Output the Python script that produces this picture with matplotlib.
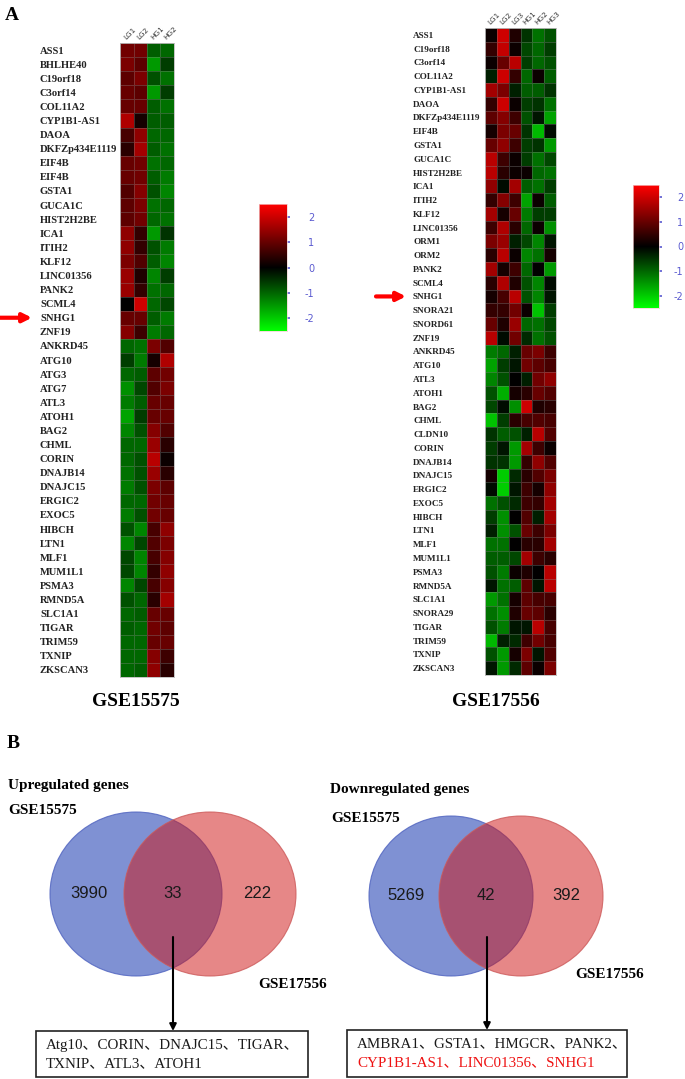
import numpy as np
import matplotlib
matplotlib.use('Agg')
import matplotlib.pyplot as plt
from matplotlib.colors import LinearSegmentedColormap
from matplotlib.patches import Ellipse, Rectangle

# ---------------- dane ----------------
genes_a = ['ASS1', 'BHLHE40', 'C19orf18', 'C3orf14', 'COL11A2', 'CYP1B1-AS1', 'DAOA',
           'DKFZp434E1119', 'EIF4B', 'EIF4B', 'GSTA1', 'GUCA1C', 'HIST2H2BE', 'ICA1',
           'ITIH2', 'KLF12', 'LINC01356', 'PANK2', 'SCML4', 'SNHG1', 'ZNF19',
           'ANKRD45', 'ATG10', 'ATG3', 'ATG7', 'ATL3', 'ATOH1', 'BAG2', 'CHML', 'CORIN',
           'DNAJB14', 'DNAJC15', 'ERGIC2', 'EXOC5', 'HIBCH', 'LTN1', 'MLF1', 'MUM1L1',
           'PSMA3', 'RMND5A', 'SLC1A1', 'TIGAR', 'TRIM59', 'TXNIP', 'ZKSCAN3']
samples_a = ['LG1', 'LG2', 'HG1', 'HG2']
vals_a = [
    [1.1, 1.1, -0.9, -1.0], [1.2, 0.9, -1.5, -0.6], [0.9, 1.2, -0.8, -1.1],
    [1.0, 0.9, -1.5, -0.6], [1.0, 1.0, -0.9, -1.1], [1.7, 0.2, -0.9, -0.9],
    [0.7, 1.4, -1.0, -1.0], [0.4, 1.6, -0.9, -1.1], [1.0, 1.1, -1.1, -1.0],
    [1.0, 1.1, -0.9, -1.2], [0.8, 1.3, -0.8, -1.3], [0.9, 1.2, -1.1, -1.0],
    [0.9, 1.1, -1.0, -1.1], [1.4, 0.5, -1.5, -0.5], [1.4, 0.5, -0.8, -1.2],
    [1.2, 0.8, -0.9, -1.3], [1.5, 0.3, -1.3, -0.6], [1.5, 0.5, -1.1, -1.0],
    [0.0, 2.0, -1.0, -0.7], [1.0, 1.0, -0.9, -1.2], [1.3, 0.6, -1.2, -1.0],
    [-1.0, -1.1, 1.2, 0.8], [-0.6, -1.2, 0.2, 1.7], [-1.0, -0.9, 0.9, 1.1],
    [-1.4, -0.7, 0.8, 1.2], [-1.2, -0.9, 1.0, 1.0], [-1.6, -0.6, 1.0, 1.0],
    [-1.3, -0.8, 1.3, 0.8], [-1.0, -1.0, 1.5, 0.4], [-1.0, -0.8, 1.8, 0.1],
    [-1.1, -0.8, 1.5, 0.4], [-1.2, -0.8, 1.2, 0.9], [-1.0, -1.0, 1.1, 1.0],
    [-1.2, -0.8, 1.1, 1.0], [-0.8, -1.3, 0.7, 1.4], [-1.3, -0.7, 0.8, 1.2],
    [-0.7, -1.3, 0.7, 1.3], [-0.7, -1.3, 0.5, 1.4], [-1.3, -0.7, 0.7, 1.3],
    [-0.8, -1.0, 0.4, 1.6], [-1.0, -0.9, 1.0, 1.0], [-0.9, -1.0, 1.1, 0.9],
    [-1.0, -1.0, 1.0, 1.0], [-1.0, -1.0, 1.3, 0.6], [-1.0, -0.9, 1.4, 0.4]]

genes_b = ['ASS1', 'C19orf18', 'C3orf14', 'COL11A2', 'CYP1B1-AS1', 'DAOA', 'DKFZp434E1119',
           'EIF4B', 'GSTA1', 'GUCA1C', 'HIST2H2BE', 'ICA1', 'ITIH2', 'KLF12', 'LINC01356',
           'ORM1', 'ORM2', 'PANK2', 'SCML4', 'SNHG1', 'SNORA21', 'SNORD61', 'ZNF19',
           'ANKRD45', 'ATG10', 'ATL3', 'ATOH1', 'BAG2', 'CHML', 'CLDN10', 'CORIN',
           'DNAJB14', 'DNAJC15', 'ERGIC2', 'EXOC5', 'HIBCH', 'LTN1', 'MLF1', 'MUM1L1',
           'PSMA3', 'RMND5A', 'SLC1A1', 'SNORA29', 'TIGAR', 'TRIM59', 'TXNIP', 'ZKSCAN3']
samples_b = ['LG1', 'LG2', 'LG3', 'HG1', 'HG2', 'HG3']
vals_b = [
    [0.1, 2.0, 0.3, -0.5, -1.1, -0.8], [0.5, 1.9, 0.1, -0.7, -1.0, -0.6],
    [0.1, 1.0, 1.8, -0.6, -1.0, -0.8], [-0.3, 2.0, 0.5, -1.0, 0.1, -0.9],
    [1.6, 1.2, -0.3, -0.9, -0.9, -0.5], [0.5, 2.0, 0.1, -0.6, -0.5, -1.1],
    [0.9, 1.3, 0.6, -0.8, -0.2, -1.6], [0.2, 1.2, 1.0, -0.5, -1.8, -0.1],
    [1.0, 1.4, 0.6, -0.6, -0.5, -1.5], [1.8, 0.6, 0.1, -0.6, -1.1, -0.7],
    [1.8, 0.4, 0.1, 0.1, -1.0, -1.1], [1.4, -0.1, 1.6, -0.9, -1.1, -0.6],
    [0.5, 1.3, 0.6, -1.6, 0.1, -0.9], [1.6, 0.2, 1.0, -1.2, -0.6, -0.6],
    [0.6, 1.7, 0.4, -1.0, 0.1, -1.4], [1.2, 1.5, -0.3, -0.7, -1.3, -0.2],
    [0.4, 1.8, 0.1, -1.3, -1.1, 0.2], [1.6, 0.2, 0.6, -1.0, 0.0, -1.5],
    [0.4, 1.7, 0.3, -0.8, -1.3, -0.1], [0.2, 0.7, 1.8, -0.8, -1.3, -0.2],
    [0.5, 0.5, 1.1, 0.1, -1.9, -0.6], [1.0, 0.3, 1.5, -1.0, -1.1, -0.7],
    [1.8, -0.1, 1.1, -0.4, -1.1, -0.8],
    [-1.2, -1.0, -0.3, 1.0, 1.2, 0.6], [-1.6, -0.6, -0.2, 1.1, 0.9, 0.7],
    [-1.3, -0.8, 0.0, -0.3, 1.1, 1.4], [-0.8, -1.7, 0.2, 0.4, 1.0, 0.8],
    [-0.7, -0.1, -1.4, 2.0, 0.3, 0.4], [-1.9, -0.6, 0.4, 0.7, 0.8, 0.7],
    [-0.5, -0.9, -0.8, -0.3, 1.8, 0.8], [-0.6, -0.2, -1.5, 1.6, 0.6, 0.1],
    [-0.5, -0.5, -1.5, 0.5, 1.4, 0.8], [0.2, -2.0, -0.4, 0.4, 0.8, 1.2],
    [-0.1, -2.0, -0.2, 0.6, 0.2, 1.4], [-1.1, -0.8, -0.4, 0.6, 0.5, 1.6],
    [-0.6, -1.4, 0.0, 0.8, -0.3, 1.6], [-0.3, -1.4, -0.8, 1.0, 0.6, 1.2],
    [-1.1, -1.1, 0.0, 0.4, 0.4, 1.6], [-0.9, -0.9, -0.7, 1.6, 0.6, 0.4],
    [-0.8, -1.2, 0.1, 0.3, 0.0, 1.8], [-0.2, -1.1, -0.9, 0.9, -0.2, 1.8],
    [-1.5, -1.1, 0.2, 0.9, 0.7, 0.7], [-1.1, -1.4, 0.3, 1.0, 0.9, 0.4],
    [-0.8, -1.2, -0.2, -0.2, 1.8, 0.7], [-1.8, -0.3, -0.4, 0.6, 1.1, 0.7],
    [-0.8, -1.5, 0.2, 1.2, -0.2, 0.8], [-0.2, -1.5, -0.4, 0.9, 0.1, 1.2]]

cbar_ticks = [-2, -1, 0, 1, 2]
marked_gene = 'SNHG1'

venn_sets = ['GSE15575', 'GSE17556']
up_counts = [3990, 33, 222]
down_counts = [5269, 42, 392]
up_common = ['Atg10、CORIN、DNAJC15、TIGAR、', 'TXNIP、ATL3、ATOH1']
down_common = ['AMBRA1、GSTA1、HMGCR、PANK2、', 'CYP1B1-AS1、LINC01356、SNHG1']

# ---------------- wykres ----------------
W, H = 685, 1079
fig = plt.figure(figsize=(W / 100, H / 100), dpi=100)
cmap = LinearSegmentedColormap.from_list('gbr', ['#00ff00', '#000000', '#ff0000'])
serif = ['Liberation Serif', 'DejaVu Serif']
serif_cjk = ['Liberation Serif', 'Noto Sans CJK SC', 'DejaVu Sans']


def px_axes(x0, y0, x1, y1):
    return fig.add_axes([x0 / W, 1 - y1 / H, (x1 - x0) / W, (y1 - y0) / H])


# warstwa z tekstami i diagramami Venna (wspolrzedne w pikselach)
ax0 = px_axes(0, 0, W, H)
ax0.set_xlim(0, W)
ax0.set_ylim(H, 0)
ax0.axis('off')


def heatmap(box, genes, samples, vals, fs, pad_px, arrow_x):
    ax = px_axes(*box)
    data = np.array(vals)
    ax.pcolormesh(data, cmap=cmap, vmin=-2.5, vmax=2.5,
                  edgecolors=(0.55, 0.55, 0.55, 0.35), linewidth=0.4)
    ax.set_ylim(len(genes), 0)
    ax.set_xlim(0, len(samples))
    ax.set_yticks(np.arange(len(genes)) + 0.5)
    ax.set_yticklabels(genes, ha='left', fontsize=fs, fontweight='bold',
                       family=serif, color='#222222')
    ax.tick_params(axis='y', length=0, pad=pad_px * 0.72)
    ax.xaxis.tick_top()
    ax.set_xticks(np.arange(len(samples)) + 0.5)
    ax.set_xticklabels(samples, rotation=45, ha='left', va='bottom',
                       rotation_mode='anchor', fontsize=5.2, color='#333333')
    ax.tick_params(axis='x', length=0, pad=2)
    for s in ax.spines.values():
        s.set_color('#bbbbbb')
        s.set_linewidth(0.6)
    i = genes.index(marked_gene)
    ax.annotate('', xy=(arrow_x[1], i + 0.5), xytext=(arrow_x[0], i + 0.5),
                xycoords=('figure pixels', 'data'), textcoords=('figure pixels', 'data'),
                arrowprops=dict(arrowstyle='-|>', color='red', lw=3, mutation_scale=13,
                                shrinkA=0, shrinkB=0))
    return ax


def colorbar(box, pad):
    cax = px_axes(*box)
    grad = np.linspace(-2.5, 2.5, 256).reshape(-1, 1)
    cax.imshow(grad, cmap=cmap, aspect='auto', origin='lower',
               extent=[0, 1, -2.5, 2.5])
    cax.set_xticks([])
    cax.yaxis.tick_right()
    cax.set_yticks(cbar_ticks)
    cax.set_yticklabels([str(t) for t in cbar_ticks], ha='right')
    cax.tick_params(axis='y', colors='#5a5ad0', length=2.5, width=1.2,
                    labelsize=7, pad=pad)
    for s in cax.spines.values():
        s.set_color('#f2d0d0')
        s.set_linewidth(0.5)


heatmap((120, 43, 174, 677), genes_a, samples_a, vals_a, 7.6, 80, (0, 32))
heatmap((485, 28, 556, 675), genes_b, samples_b, vals_b, 6.6, 72, (376, 406))
colorbar((259, 204, 287, 331), 17)
colorbar((633, 185, 659, 308), 15)

ax0.text(5, 15, 'A', fontsize=14, fontweight='bold', family=serif, va='center')
ax0.text(136, 702, venn_sets[0], fontsize=14, fontweight='bold', family=serif,
         ha='center', va='center')
ax0.text(496, 702, venn_sets[1], fontsize=14, fontweight='bold', family=serif,
         ha='center', va='center')
ax0.text(7, 744, 'B', fontsize=14, fontweight='bold', family=serif, va='center')


def venn(title, title_xy, counts, cb, cr, ry, lab1_xy, lab2_xy, arrow_x, box, lines, colors):
    rx = 86 if cr[0] - cb[0] > 72 else 82
    ax0.add_patch(Ellipse(cb, 2 * rx, 2 * ry, facecolor=(0.0, 0.145, 0.66, 0.5),
                          edgecolor=(0.3, 0.38, 0.75, 0.8), lw=0.8))
    ax0.add_patch(Ellipse(cr, 2 * rx, 2 * ry, facecolor=(0.81, 0.08, 0.08, 0.51),
                          edgecolor=(0.8, 0.35, 0.35, 0.8), lw=0.8))
    cy = cb[1]
    xs = [cb[0] - rx * 0.55, (cb[0] + cr[0]) / 2, cr[0] + rx * 0.55]
    for x, c in zip(xs, counts):
        ax0.text(x, cy, str(c), fontsize=12, family='Liberation Sans',
                 ha='center', va='center', color='#1a1a1a')
    ax0.text(*title_xy, title, fontsize=11, fontweight='bold', family=serif, va='center')
    ax0.text(*lab1_xy, venn_sets[0], fontsize=11, fontweight='bold', family=serif,
             va='center')
    ax0.text(*lab2_xy, venn_sets[1], fontsize=11, fontweight='bold', family=serif,
             va='center')
    ax0.annotate('', xy=(arrow_x, box[1]), xytext=(arrow_x, 937),
                 arrowprops=dict(arrowstyle='-|>', color='black', lw=1.5,
                                 mutation_scale=10, shrinkA=0, shrinkB=0))
    ax0.add_patch(Rectangle((box[0], box[1]), box[2] - box[0], box[3] - box[1],
                            facecolor='white', edgecolor='#222222', lw=1.2))
    for k, (ln, col) in enumerate(zip(lines, colors)):
        ax0.text(box[0] + 10, box[1] + 14 + 19 * k, ln, fontsize=10.8,
                 family=serif_cjk, color=col, va='center')


venn('Upregulated genes', (8, 786), up_counts, (136, 894), (210, 894), 82,
     (8, 811), (258, 985), 173, (36, 1031, 308, 1077), up_common, ['#1a1a1a', '#1a1a1a'])
venn('Downregulated genes', (330, 789), down_counts, (451, 896), (521, 896), 80,
     (331, 818), (575, 975), 487, (347, 1030, 627, 1077), down_common, ['#1a1a1a', '#ee1111'])

fig.savefig('out.png', dpi=100)
